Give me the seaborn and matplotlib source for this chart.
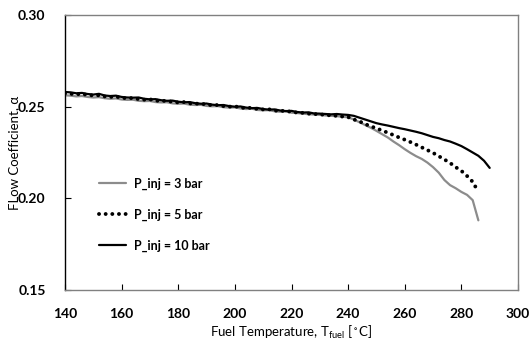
import numpy as np
import pandas as pd
import seaborn as sns
import matplotlib
matplotlib.use("Agg")
import matplotlib.pyplot as plt

sns.set_theme(style="white")
plt.rcParams['font.family'] = ['Lato', 'DejaVu Sans']
plt.rcParams['text.color'] = 'black'
plt.rcParams['axes.labelcolor'] = 'black'
plt.rcParams['xtick.color'] = 'black'
plt.rcParams['ytick.color'] = 'black'

x3 = list(range(140, 288, 2))
x5 = list(range(140, 288, 2))
x10 = list(range(140, 292, 2))

y3 = [.2562, .2560, .2556, .2558, .2553, .2550, .2552, .2546, .2543, .2545,
      .2539, .2537, .2538, .2532, .2530, .2531, .2525, .2523, .2524, .2518,
      .2516, .2517, .2511, .2509, .2510, .2504, .2502, .2503, .2497, .2495,
      .2496, .2490, .2487, .2489, .2482, .2480, .2481, .2475, .2472, .2474,
      .2467, .2465, .2462, .2459, .2457, .2455, .2452, .2450, .2448, .2445,
      .2442,
      .2430, .2415, .2400, .2385, .2368, .2350, .2332, .2310, .2290, .2268,
      .2248, .2230, .2215, .2195, .2170, .2140, .2100, .2072, .2055, .2035,
      .2019, .1990, .1880]

y5 = [.2572, .2570, .2568, .2569, .2564, .2561, .2562, .2556, .2553, .2555,
      .2548, .2546, .2547, .2541, .2538, .2540, .2533, .2531, .2532, .2526,
      .2523, .2525, .2518, .2516, .2517, .2511, .2508, .2509, .2503, .2500,
      .2502, .2495, .2492, .2494, .2487, .2485, .2486, .2479, .2476, .2478,
      .2471, .2468, .2466, .2462, .2460, .2458, .2455, .2452, .2450, .2446,
      .2443,
      .2430, .2420, .2405, .2393, .2382, .2370, .2358, .2345, .2332, .2320,
      .2307, .2293, .2278, .2263, .2248, .2230, .2212, .2193, .2170, .2150,
      .2122, .2090, .2035]

y10 = [.2580, .2578, .2573, .2575, .2569, .2566, .2570, .2561, .2558, .2560,
       .2553, .2550, .2549, .2550, .2543, .2540, .2541, .2535, .2532, .2533,
       .2527, .2524, .2525, .2519, .2516, .2517, .2511, .2508, .2509, .2503,
       .2500, .2501, .2495, .2492, .2493, .2487, .2484, .2485, .2479, .2476,
       .2477, .2471, .2468, .2469, .2463, .2462, .2460, .2458, .2460, .2457,
       .2455,
       .2450, .2440, .2430, .2420, .2410, .2403, .2397, .2390, .2383, .2377,
       .2370, .2363, .2355, .2345, .2335, .2328, .2318, .2310, .2298, .2285,
       .2268, .2250, .2232, .2205, .2166]

labels = ["P_inj = 3 bar", "P_inj = 5 bar", "P_inj = 10 bar"]
xticks = [140, 160, 180, 200, 220, 240, 260, 280, 300]
yticks = [0.15, 0.20, 0.25, 0.30]

fig = plt.figure(figsize=(5.31, 3.45), dpi=100)
ax = fig.add_axes([65/531, 55/345, (518-65)/531, (290-15)/345])

sns.lineplot(x=x3, y=y3, ax=ax, color="#8c8c8c", lw=1.6, label=labels[0])
sns.lineplot(x=x5, y=y5, ax=ax, color="black", lw=2.8, label=labels[1],
             linestyle=(0, (0.01, 1.7)), dash_capstyle="round")
sns.lineplot(x=x10, y=y10, ax=ax, color="black", lw=1.6, label=labels[2])

ax.set_xlim(140, 300)
ax.set_ylim(0.15, 0.30)
ax.set_xticks(xticks)
ax.set_yticks(yticks)
ax.set_xticklabels([str(t) for t in xticks], fontweight="bold", fontsize=10)
ax.set_yticklabels([f"{t:.2f}" for t in yticks], fontweight="bold", fontsize=10)
ax.tick_params(axis="x", direction="in", length=4, width=0.8, color="black",
               pad=13, bottom=True)
ax.tick_params(axis="y", direction="in", length=4, width=0.8, color="black",
               pad=14, left=True)
for s in ax.spines.values():
    s.set_color("#808080")
    s.set_linewidth(1.0)
ax.spines["left"].set_color("black")

ax.set_xlabel("Fuel Temperature, T$_{\\mathregular{fuel}}$ [$\\mathregular{^\\circ}$C]", fontsize=9.5)
ax.xaxis.set_label_coords(0.5, -0.125)
ax.set_ylabel("FLow Coefficient, α", fontsize=9.5)
ax.yaxis.set_label_coords(-0.098, 0.5)

leg = ax.legend(loc="upper left", bbox_to_anchor=(0.05, 0.45), frameon=False,
                handlelength=2.2, labelspacing=1.5, handletextpad=0.6,
                prop={"weight": "bold", "size": 9})

fig.savefig("out.png", dpi=100)
